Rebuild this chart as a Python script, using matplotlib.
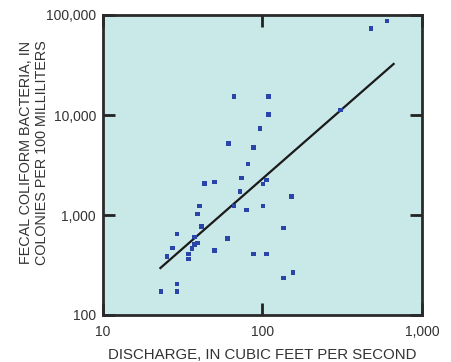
import numpy as np
import matplotlib
matplotlib.use("Agg")
import matplotlib.pyplot as plt
from matplotlib.ticker import FixedLocator, NullLocator

# discharge (cfs) and fecal coliform (colonies per 100 mL)
discharge = [603, 479, 308, 66.3, 109, 109, 96.4, 61.1, 88.0, 81.1, 74.0, 105.7,
             100.7, 43.4, 50.1, 72.3, 151.7, 40.2, 66.3, 100.7, 79.2, 39.2, 41.4,
             135.1, 29.2, 37.4, 60.2, 37.5, 39.2, 27.2, 36.1, 50.1, 34.3, 88.0,
             105.7, 25.2, 34.3, 135.1, 156, 29.2, 23.2, 29.2]
bacteria = [87700, 73600, 11200, 15260, 15260, 10150, 7360, 5210, 4720, 3240, 2330,
            2240, 2040, 2060, 2140, 1725, 1525, 1230, 1230, 1230, 1120, 1023, 770,
            741, 646, 603, 580, 509, 525, 471, 461, 440, 407, 407, 407, 386, 363,
            233, 265, 204, 172, 172]

# regression line endpoints
fit_x = [22.9, 664]
fit_y = [295, 32400]

xticks = [10, 100, 1000]
xlabels = ["10", "100", "1,000"]
yticks = [100, 1000, 10000, 100000]
ylabels = ["100", "1,000", "10,000", "100,000"]

plt.rcParams['font.family'] = ['Liberation Sans', 'DejaVu Sans']

fig = plt.figure(figsize=(4.52, 3.62), dpi=100)
ax = fig.add_axes([103 / 452, 1 - 315 / 362, 319 / 452, 300 / 362])
ax.set_facecolor("#c9e8e8")

ax.plot(fit_x, fit_y, color="#1a1a1a", lw=1.6, zorder=2)
ax.scatter(discharge, bacteria, marker="s", s=10, color="#2b44a8",
           edgecolors="none", zorder=3)

ax.set_xscale("log")
ax.set_yscale("log")
ax.set_xlim(10, 1000)
ax.set_ylim(100, 100000)

ax.xaxis.set_major_locator(FixedLocator(xticks))
ax.yaxis.set_major_locator(FixedLocator(yticks))
ax.xaxis.set_minor_locator(NullLocator())
ax.yaxis.set_minor_locator(NullLocator())
ax.set_xticklabels(xlabels)
ax.set_yticklabels(ylabels)
ax.tick_params(direction="in", length=8.5, width=2, colors="#222222",
               top=True, right=True, labelsize=10, labelcolor="#333333")
ax.tick_params(axis="x", pad=7)
ax.tick_params(axis="y", pad=5)

for s in ax.spines.values():
    s.set_linewidth(2)
    s.set_color("#2a2a2a")

ax.set_xlabel("DISCHARGE, IN CUBIC FEET PER SECOND", fontsize=10.8,
              color="#333333", labelpad=7)
ax.set_ylabel("FECAL COLIFORM BACTERIA, IN\nCOLONIES PER 100 MILLILITERS",
              fontsize=10.4, color="#333333", linespacing=1.15)
ax.yaxis.set_label_coords(-0.17, 0.54)

fig.savefig("out.png", dpi=100)
